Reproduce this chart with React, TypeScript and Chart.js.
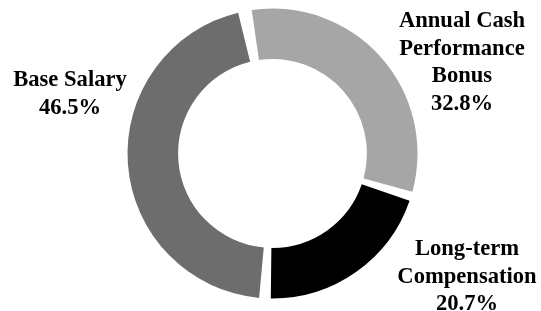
import React, { useEffect, useRef } from "react";
import { Chart, registerables } from "chart.js";

Chart.register(...registerables);

const categories = ["Annual Cash Performance Bonus", "Long-term Compensation", "Base Salary"];
const shares = [32.8, 20.7, 46.5];
const sliceColors = ["#a6a6a6", "#000000", "#6d6d6d"];
const labelLines = [
  ["Annual Cash", "Performance", "Bonus", "32.8%"],
  ["Long-term", "Compensation", "20.7%"],
  ["Base Salary", "46.5%"],
];

// label anchor: centre x and first baseline y (layout only)
const labelAnchors = [
  { x: 462, y: 27 },
  { x: 467, y: 255 },
  { x: 70, y: 86 },
];

const FONT = 'bold 22.6px "Liberation Serif", "Times New Roman", serif';
const LINE_H = 27.7;

const labelPlugin = {
  id: "sliceLabels",
  afterDatasetsDraw(chart: any) {
    const ctx = chart.ctx;
    ctx.save();
    ctx.font = FONT;
    ctx.fillStyle = "#000";
    ctx.textAlign = "center";
    ctx.textBaseline = "alphabetic";
    labelLines.forEach((lines, i) => {
      const a = labelAnchors[i];
      lines.forEach((t, j) => ctx.fillText(t, a.x, a.y + j * LINE_H));
    });
    ctx.restore();
  },
};

export default function App() {
  const ref = useRef<HTMLCanvasElement>(null);
  useEffect(() => {
    const chart = new Chart(ref.current!, {
      type: "doughnut",
      data: {
        labels: categories,
        datasets: [
          {
            data: shares,
            backgroundColor: sliceColors,
            borderWidth: 0,
            spacing: 9,
          } as any,
        ],
      },
      options: {
        animation: false,
        responsive: false,
        maintainAspectRatio: false,
        rotation: -10.5,
        cutout: "64%",
        layout: { padding: { left: 100, right: 96, top: 8.5, bottom: 12.5 } },
        plugins: {
          legend: { display: false },
          tooltip: { enabled: false },
        },
      },
      plugins: [labelPlugin],
    });
    return () => chart.destroy();
  }, []);
  return (
    <div style={{ position: "fixed", left: 0, top: 0, width: 541, height: 311, background: "#fff" }}>
      <canvas ref={ref} width={541} height={311} style={{ width: 541, height: 311 }} />
    </div>
  );
}
